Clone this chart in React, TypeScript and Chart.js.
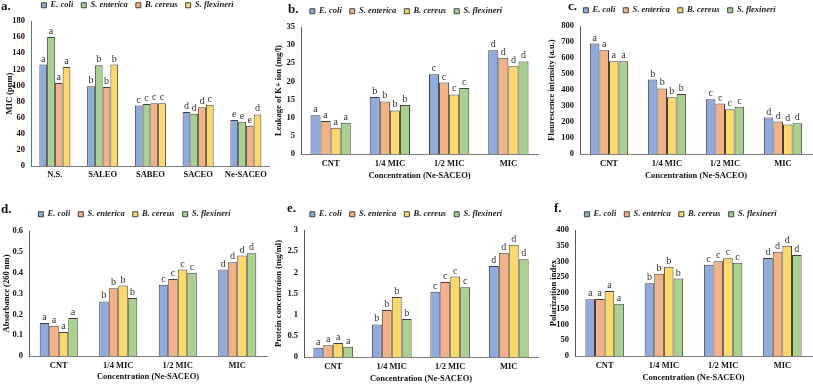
import React, { useEffect, useRef } from "react";
import { Chart, registerables } from "chart.js";

Chart.register(...registerables);

const SERIF = '"Liberation Serif", "Times New Roman", serif';

// ---------- shared ----------
const seriesNames = ["E. coli", "S. enterica", "B. cereus", "S. flexineri"];
const concCategories = ["CNT", "1/4 MIC", "1/2 MIC", "MIC"];
const concLetters = ["a", "b", "c", "d"];
const BLUE = "#8FAADC";
const ORANGE = "#F4B183";
const YELLOW = "#FFD966";
const GREEN = "#A9D18E";

// ---------- panel a: MIC ----------
const aCategories = ["N.S.", "SALEO", "SABEO", "SACEO", "Ne-SACEO"];
const aEcoli = [126, 99, 75, 67, 57];
const aEnterica = [160, 125, 77, 65, 55];
const aCereus = [103, 98, 78, 73, 50];
const aFlexineri = [123, 126, 78, 76, 64];
const aEcoliLetters = ["a", "b", "c", "d", "e"];
const aEntericaLetters = ["a", "b", "c", "d", "e"];
const aCereusLetters = ["a", "b", "c", "d", "e"];
const aFlexineriLetters = ["a", "b", "c", "c", "d"];

// ---------- panel b: K+ leakage ----------
const bEcoli = [10.7, 15.7, 22.0, 28.6];
const bEnterica = [9.1, 14.5, 19.7, 26.5];
const bCereus = [7.2, 12.0, 16.4, 24.2];
const bFlexineri = [8.6, 13.5, 18.2, 25.5];

// ---------- panel c: fluorescence ----------
const cEcoli = [690, 465, 342, 228];
const cEnterica = [648, 410, 315, 203];
const cCereus = [580, 355, 280, 185];
const cFlexineri = [580, 375, 295, 192];

// ---------- panel d: absorbance ----------
const dEcoli = [0.158, 0.262, 0.342, 0.415];
const dEnterica = [0.145, 0.325, 0.37, 0.45];
const dCereus = [0.115, 0.338, 0.415, 0.482];
const dFlexineri = [0.182, 0.278, 0.4, 0.493];

// ---------- panel e: protein ----------
const eEcoli = [0.22, 0.77, 1.54, 2.15];
const eEnterica = [0.28, 1.11, 1.77, 2.46];
const eCereus = [0.33, 1.42, 1.9, 2.65];
const eFlexineri = [0.24, 0.9, 1.65, 2.31];

// ---------- panel f: polarization ----------
const fEcoli = [180, 231, 290, 311];
const fEnterica = [181, 261, 301, 331];
const fCereus = [206, 283, 310, 350];
const fFlexineri = [166, 246, 296, 321];

type Geo = {
  padTop: number;
  legendH: number;
  padLeft: number;
  yWidth: number;
  padRight: number;
  padBottom: number;
  xHeight: number;
  xTickPad: number;
  catPct: number;
};

type PanelCfg = {
  tag: string;
  left: number;
  top: number;
  tagX: number;
  tagY: number;
  categories: string[];
  names: string[];
  colors: string[];
  values: number[][];
  letters: string[][];
  yMax: number;
  yStep: number;
  yTitle: string;
  xTitle: string | null;
  yBorder: string;
  geo: Geo;
};

const panels: PanelCfg[] = [
  {
    tag: "a.",
    left: 0,
    top: 0,
    tagX: 1,
    tagY: -1,
    categories: aCategories,
    names: seriesNames,
    colors: [BLUE, GREEN, ORANGE, YELLOW],
    values: [aEcoli, aEnterica, aCereus, aFlexineri],
    letters: [aEcoliLetters, aEntericaLetters, aCereusLetters, aFlexineriLetters],
    yMax: 180,
    yStep: 20,
    yTitle: "MIC (ppm)",
    xTitle: null,
    yBorder: "#4472C4",
    geo: { padTop: -7, legendH: 28, padLeft: 5, yWidth: 26, padRight: 1, padBottom: 0, xHeight: 26, xTickPad: 4, catPct: 0.65 },
  },
  {
    tag: "b.",
    left: 271,
    top: 0,
    tagX: 17,
    tagY: 2,
    categories: concCategories,
    names: seriesNames,
    colors: [BLUE, ORANGE, YELLOW, GREEN],
    values: [bEcoli, bEnterica, bCereus, bFlexineri],
    letters: [concLetters, concLetters, concLetters, concLetters],
    yMax: 35,
    yStep: 5,
    yTitle: "Leakage of K+ ion (mg/l)",
    xTitle: "Concentration (Ne-SACEO)",
    yBorder: "#595959",
    geo: { padTop: -1, legendH: 28, padLeft: 3, yWidth: 27, padRight: 4, padBottom: 11, xHeight: 27, xTickPad: 5, catPct: 0.68 },
  },
  {
    tag: "c.",
    left: 542,
    top: 0,
    tagX: 26,
    tagY: -1,
    categories: concCategories,
    names: seriesNames,
    colors: [BLUE, ORANGE, YELLOW, GREEN],
    values: [cEcoli, cEnterica, cCereus, cFlexineri],
    letters: [concLetters, concLetters, concLetters, concLetters],
    yMax: 800,
    yStep: 100,
    yTitle: "Flourescence intensity (a.u.)",
    xTitle: "Concentration (Ne-SACEO)",
    yBorder: "#595959",
    geo: { padTop: -2, legendH: 28, padLeft: 5, yWidth: 33, padRight: 1, padBottom: 11, xHeight: 27, xTickPad: 5, catPct: 0.66 },
  },
  {
    tag: "d.",
    left: 0,
    top: 192,
    tagX: 1,
    tagY: 10,
    categories: concCategories,
    names: seriesNames,
    colors: [BLUE, ORANGE, YELLOW, GREEN],
    values: [dEcoli, dEnterica, dCereus, dFlexineri],
    letters: [concLetters, concLetters, concLetters, concLetters],
    yMax: 0.6,
    yStep: 0.1,
    yTitle: "Absorbance (260 nm)",
    xTitle: "Concentration (Ne-SACEO)",
    yBorder: "#595959",
    geo: { padTop: 10, legendH: 29, padLeft: 2, yWidth: 27, padRight: 4, padBottom: 2, xHeight: 26, xTickPad: 5, catPct: 0.64 },
  },
  {
    tag: "e.",
    left: 271,
    top: 192,
    tagX: 16,
    tagY: 9,
    categories: concCategories,
    names: seriesNames,
    colors: [BLUE, ORANGE, YELLOW, GREEN],
    values: [eEcoli, eEnterica, eCereus, eFlexineri],
    letters: [concLetters, concLetters, concLetters, concLetters],
    yMax: 3,
    yStep: 0.5,
    yTitle: "Protein concentraion (mg/ml)",
    xTitle: "Concentration (Ne-SACEO)",
    yBorder: "#595959",
    geo: { padTop: 10, legendH: 28, padLeft: 3, yWidth: 30, padRight: 4, padBottom: 0, xHeight: 27, xTickPad: 5, catPct: 0.68 },
  },
  {
    tag: "f.",
    left: 542,
    top: 192,
    tagX: 12,
    tagY: 9,
    categories: concCategories,
    names: seriesNames,
    colors: [BLUE, ORANGE, YELLOW, GREEN],
    values: [fEcoli, fEnterica, fCereus, fFlexineri],
    letters: [concLetters, concLetters, concLetters, concLetters],
    yMax: 400,
    yStep: 50,
    yTitle: "Polarization index",
    xTitle: "Concentration (Ne-SACEO)",
    yBorder: "#595959",
    geo: { padTop: 10, legendH: 28, padLeft: 7, yWidth: 26, padRight: 1, padBottom: 1, xHeight: 27, xTickPad: 5, catPct: 0.65 },
  },
];

const barLettersPlugin = {
  id: "barLetters",
  afterDatasetsDraw(chart: any) {
    const ctx = chart.ctx;
    ctx.save();
    ctx.font = `10px ${SERIF}`;
    ctx.fillStyle = "#333";
    ctx.textAlign = "center";
    ctx.textBaseline = "alphabetic";
    chart.data.datasets.forEach((ds: any, i: number) => {
      const meta = chart.getDatasetMeta(i);
      meta.data.forEach((bar: any, j: number) => {
        const t = ds.sigLetters ? ds.sigLetters[j] : "";
        if (t) ctx.fillText(t, bar.x, bar.y - 3);
      });
    });
    ctx.restore();
  },
};

function Panel({ cfg }: { cfg: PanelCfg }) {
  const ref = useRef<HTMLCanvasElement | null>(null);
  useEffect(() => {
    if (!ref.current) return;
    const g = cfg.geo;
    const legendHeightPlugin = {
      id: "legendHeight",
      beforeUpdate(chart: any) {
        const lg = chart.legend;
        if (lg && !lg.__patched) {
          const orig = lg.fit;
          lg.fit = function () {
            orig.call(this);
            this.height = g.legendH;
          };
          lg.__patched = true;
        }
      },
    };
    const chart = new Chart(ref.current, {
      type: "bar",
      data: {
        labels: cfg.categories,
        datasets: cfg.names.map((n, i) => ({
          label: n,
          data: cfg.values[i],
          backgroundColor: cfg.colors[i],
          borderColor: "#404040",
          borderWidth: 1,
          categoryPercentage: g.catPct,
          barPercentage: 1,
          sigLetters: cfg.letters[i],
        })) as any,
      },
      options: {
        animation: false,
        responsive: false,
        maintainAspectRatio: false,
        layout: {
          padding: { top: g.padTop, left: g.padLeft, right: g.padRight, bottom: g.padBottom },
        },
        plugins: {
          tooltip: { enabled: false },
          legend: {
            display: true,
            position: "top",
            labels: {
              boxWidth: 5,
              boxHeight: 5,
              padding: 8,
              color: "#222",
              font: { family: SERIF, size: 8.5, style: "italic", weight: "bold" },
            },
          },
        },
        scales: {
          x: {
            grid: { display: false, drawTicks: false },
            border: { display: true, color: "#7f7f7f", width: 1 },
            ticks: {
              color: "#111",
              padding: g.xTickPad,
              font: { family: SERIF, size: 8.5, weight: "bold" },
              maxRotation: 0,
              autoSkip: false,
            },
            title: cfg.xTitle
              ? {
                  display: true,
                  text: cfg.xTitle,
                  color: "#111",
                  padding: 0,
                  font: { family: SERIF, size: 8.5, weight: "bold" },
                }
              : { display: false },
            afterFit: (s: any) => {
              s.height = g.xHeight;
            },
          },
          y: {
            min: 0,
            max: cfg.yMax,
            grid: { display: false, drawTicks: false },
            border: { display: true, color: cfg.yBorder, width: 1 },
            ticks: {
              stepSize: cfg.yStep,
              color: "#111",
              padding: 6,
              font: { family: SERIF, size: 8.5, weight: "bold" },
              callback: (v: any) => String(+Number(v).toFixed(3)),
            },
            title: {
              display: true,
              text: cfg.yTitle,
              color: "#111",
              padding: 0,
              font: { family: SERIF, size: 8.5, weight: "bold" },
            },
            afterFit: (s: any) => {
              s.width = g.yWidth;
            },
          },
        },
      } as any,
      plugins: [legendHeightPlugin, barLettersPlugin],
    });
    return () => chart.destroy();
  }, [cfg]);

  return (
    <div style={{ position: "absolute", left: cfg.left, top: cfg.top, width: 271, height: 192 }}>
      <canvas ref={ref} width={271} height={192} style={{ display: "block", width: 271, height: 192 }} />
      <div
        style={{
          position: "absolute",
          left: cfg.tagX,
          top: cfg.tagY,
          font: `bold 13px ${SERIF}`,
          lineHeight: "13px",
          color: "#111",
          whiteSpace: "nowrap",
        }}
      >
        {cfg.tag}
      </div>
    </div>
  );
}

export default function App() {
  return (
    <div
      style={{
        position: "absolute",
        left: 0,
        top: 0,
        width: 813,
        height: 384,
        background: "#fff",
        overflow: "hidden",
      }}
    >
      {panels.map((p) => (
        <Panel key={p.tag} cfg={p} />
      ))}
    </div>
  );
}
